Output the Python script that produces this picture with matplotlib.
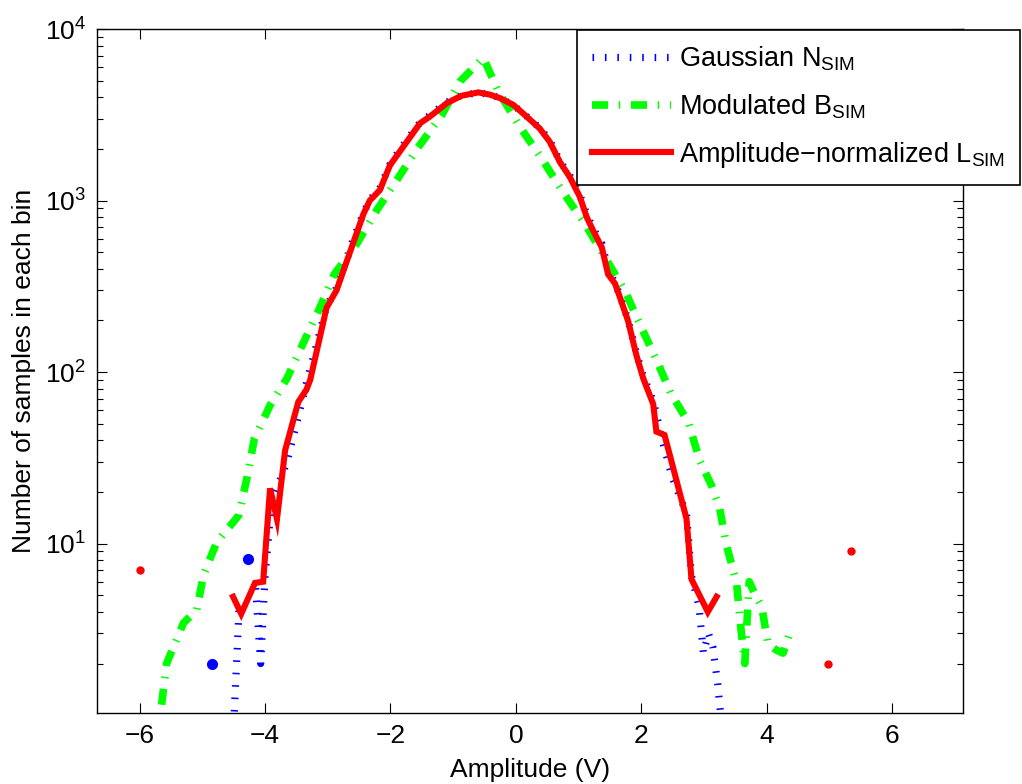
import numpy as np
import matplotlib
matplotlib.use('Agg')
import matplotlib.pyplot as plt
from matplotlib.ticker import LogLocator, NullLocator, FixedLocator

plt.rcParams['font.family'] = ['Liberation Sans', 'DejaVu Sans']
plt.rcParams['mathtext.fontset'] = 'custom'
plt.rcParams['mathtext.rm'] = 'Liberation Sans'
plt.rcParams['mathtext.it'] = 'Liberation Sans:italic'
plt.rcParams['mathtext.default'] = 'regular'

# Gaussian N_SIM (blue dotted); 0 = empty bin
N_x = [-4.84, -4.65, -4.49, -4.41, -4.34, -4.27, -4.21, -4.15, -4.07, -4.00,
       -3.90, -3.79, -3.65, -3.47, -3.34, -3.02, -2.86, -2.62, -2.43, -2.33,
       -2.17, -2.01, -1.93, -1.74, -1.53, -1.37, -1.10, -0.87, -0.60, -0.41,
       -0.25, -0.04, 0.17, 0.38, 0.54, 0.70, 0.86, 1.02, 1.13, 1.23,
       1.37, 1.47, 1.58, 1.66, 1.79, 1.92, 2.03, 2.19, 2.35, 2.50,
       2.72, 2.80, 2.92, 2.99, 3.07, 3.14, 3.22, 3.26]
N_y = [2.0, 0, 1.05, 4.5, 0, 8.1, 0, 5.5, 2.0, 6.5,
       17, 22, 30, 55, 86, 240, 310, 560, 850, 1010,
       1180, 1620, 1800, 2250, 2850, 3150, 3750, 4100, 4250, 4150,
       3950, 3600, 3100, 2650, 2250, 1700, 1400, 1080, 830, 690,
       560, 400, 330, 280, 200, 130, 95, 68, 38, 24,
       15, 6.5, 4.3, 2.3, 3.0, 2.5, 1.5, 1.05]

# Modulated B_SIM (green dash-dot)
B_x = [-5.65, -5.57, -5.30, -5.09, -4.98, -4.77, -4.42, -4.29, -4.17, -3.92,
       -3.65, -3.39, -3.15, -2.90, -2.54, -2.22, -1.88, -1.56, -1.18, -0.89,
       -0.52, -0.28, 0.06, 0.41, 0.75, 1.10, 1.42, 1.74, 1.98, 2.24,
       2.48, 2.75, 2.93, 3.12, 3.25, 3.36, 3.52, 3.58, 3.65, 3.72,
       3.82, 3.92, 4.02, 4.15, 4.26, 4.36]
B_y = [1.15, 2.0, 3.45, 4.1, 6.6, 10.2, 14.6, 24, 41, 64,
       92, 148, 227, 370, 558, 877, 1350, 2040, 3160, 4950,
       6800, 4330, 2700, 1760, 1120, 731, 467, 297, 189, 118,
       74, 51, 30.6, 21.8, 16, 9.7, 5.9, 3.4, 2.0, 6.0,
       5.0, 4.3, 2.6, 2.4, 2.3, 2.95]

# Amplitude-normalized L_SIM (red solid)
L_x = [-6.00, -5.50, -4.51, -4.38, -4.16, -4.03, -3.92, -3.81, -3.68, -3.47,
       -3.34, -3.28, -3.02, -2.86, -2.61, -2.43, -2.33, -2.17, -2.01, -1.93,
       -1.74, -1.53, -1.37, -1.10, -0.87, -0.60, -0.41, -0.25, -0.04, 0.17,
       0.38, 0.54, 0.70, 0.86, 1.02, 1.13, 1.23, 1.37, 1.47, 1.58,
       1.66, 1.79, 1.92, 2.03, 2.19, 2.24, 2.37, 2.72, 2.80, 3.06,
       3.20, 3.60, 4.97, 5.15, 5.34]
L_y = [7.0, 0, 4.9, 3.9, 5.9, 6.0, 21, 13.9, 35, 67,
       79, 90, 237, 300, 545, 837, 1000, 1150, 1600, 1760,
       2200, 2820, 3090, 3700, 4080, 4270, 4140, 3950, 3610, 3090,
       2630, 2200, 1680, 1370, 1050, 800, 670, 533, 372, 328,
       272, 198, 126, 92, 65, 45, 43, 14, 6.2, 4.0,
       4.9, 0, 2.0, 0, 9.0]

x_ticks = [-6, -4, -2, 0, 2, 4, 6]
y_ticks = [1e1, 1e2, 1e3, 1e4]


def lone_points(x, y):
    # bins with empty neighbours: MATLAB still shows them as a dot
    x = np.asarray(x, float)
    y = np.asarray(y, float)
    keep = []
    for i in range(len(y)):
        left = i == 0 or y[i - 1] <= 0
        right = i == len(y) - 1 or y[i + 1] <= 0
        if y[i] > 0 and left and right:
            keep.append(i)
    return x[keep], y[keep]


fig = plt.figure(figsize=(10.22, 7.84), dpi=100)
ax = fig.add_axes([0.0949, 0.0906, 0.8474, 0.8724])
ax.set_yscale('log', nonpositive='mask')

fs = 19

hN, = ax.plot(N_x, N_y, color='#0000ff', lw=5.2, linestyle=(0, (0.22, 1.5)),
              dash_capstyle='butt', label=r'Gaussian N$_{\rm SIM}$')
hB, = ax.plot(B_x, B_y, color='#00ff00', lw=5.5,
              linestyle=(0, (2.1, 1.4, 0.2, 1.4)), dash_capstyle='butt',
              label=r'Modulated B$_{\rm SIM}$')
hL, = ax.plot(L_x, L_y, color='#ff0000', lw=4.4, solid_joinstyle='miter',
              label=r'Amplitude$-$normalized L$_{\rm SIM}$')

for (x, y), c, ms in [((N_x, N_y), '#0000ff', 8), ((B_x, B_y), '#00ff00', 8),
                      ((L_x, L_y), '#ff0000', 6)]:
    px, py = lone_points(x, y)
    ax.plot(px, py, 'o', color=c, ms=ms, mec='none', linestyle='none')

ax.set_xlim(-6.68, 7.13)
ax.set_ylim(1.03, 1e4)
ax.xaxis.set_major_locator(FixedLocator(x_ticks))
ax.xaxis.set_minor_locator(NullLocator())
ax.yaxis.set_major_locator(FixedLocator(y_ticks))
ax.yaxis.set_minor_locator(LogLocator(base=10, subs=np.arange(2, 10)))
ax.set_xticklabels([str(t).replace('-', '\u2212') for t in x_ticks])

ax.tick_params(which='both', direction='in', top=True, right=True,
               labelsize=fs, width=0.8, color='black')
ax.tick_params(which='major', length=7, pad=8)
ax.tick_params(which='minor', length=4)
for s in ax.spines.values():
    s.set_linewidth(1.0)

ax.set_xlabel('Amplitude (V)', fontsize=fs, labelpad=7)
ax.set_ylabel('Number of samples in each bin', fontsize=fs, labelpad=6)

leg = ax.legend(handles=[hN, hB, hL], loc='upper right',
                bbox_to_anchor=(1020 / 1022, 1 - 30 / 784),
                bbox_transform=fig.transFigure, fontsize=19.5,
                frameon=True, fancybox=False, framealpha=1,
                edgecolor='black', borderaxespad=0, handlelength=2.9,
                handletextpad=0.3, labelspacing=0.7, borderpad=0.55)
leg.get_frame().set_linewidth(1.2)

fig.savefig('out.png', dpi=100)
